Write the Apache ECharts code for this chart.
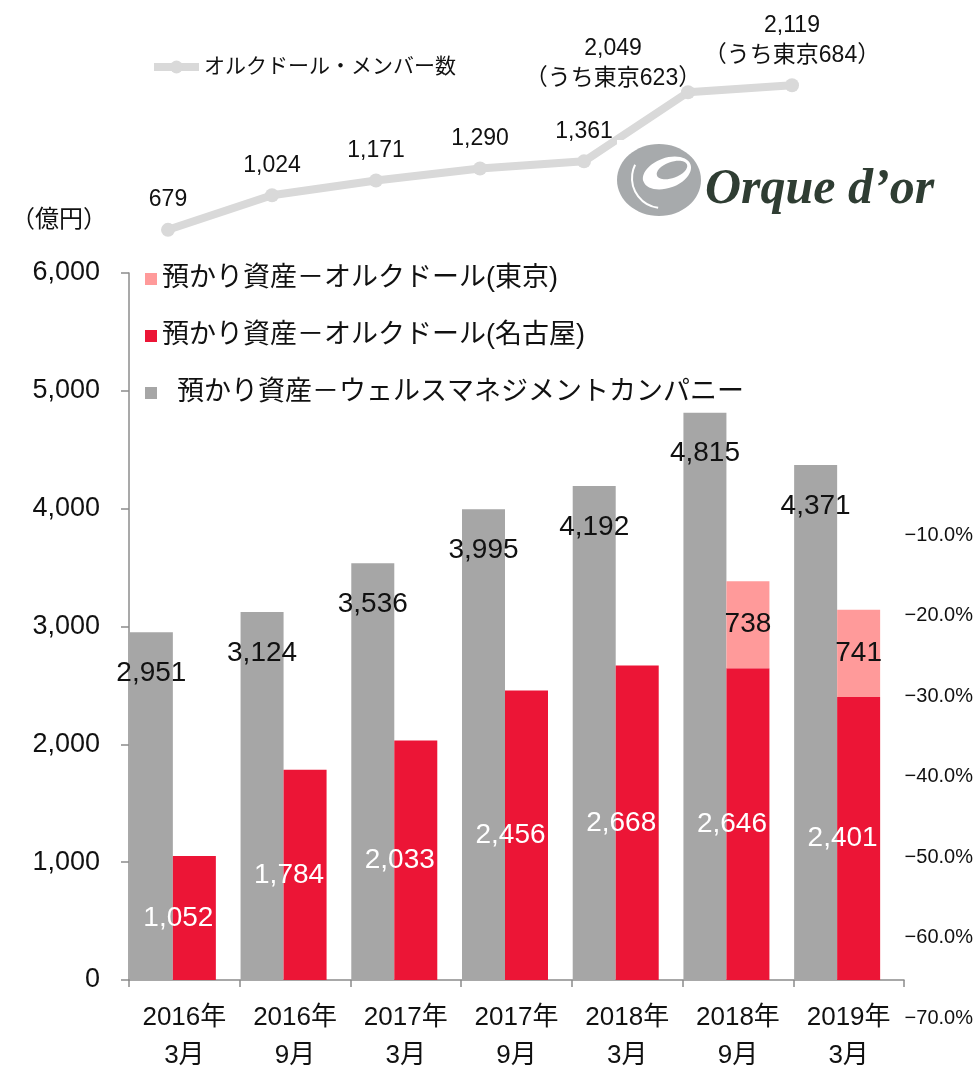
<!DOCTYPE html>
<html>
<head>
<meta charset="utf-8">
<script src="https://cdn.jsdelivr.net/npm/echarts@6/dist/echarts.min.js"></script>
<style>
  html, body { margin: 0; padding: 0; background: #fff; }
  #chart { width: 976px; height: 1075px; }
</style>
</head>
<body>
<div id="chart"></div>
<script>
// data
const categories = ['2016年\n3月', '2016年\n9月', '2017年\n3月', '2017年\n9月', '2018年\n3月', '2018年\n9月', '2019年\n3月'];
const wealthAssets = [2951, 3124, 3536, 3995, 4192, 4815, 4371];
const nagoyaAssets = [1052, 1784, 2033, 2456, 2668, 2646, 2401];
const tokyoAssets = ['-', '-', '-', '-', '-', 738, 741];
const memberCounts = [679, 1024, 1171, 1290, 1361, 2049, 2119];
const tokyoMembers = [null, null, null, null, null, 623, 684];

const nameTokyo = '預かり資産－オルクドール(東京)';
const nameNagoya = '預かり資産－オルクドール(名古屋)';
const nameWealth = '預かり資産－ウェルスマネジメントカンパニー';
const nameMembers = 'オルクドール・メンバー数';

const FONT = '"Liberation Sans", "Noto Sans CJK JP", sans-serif';
const axisGrey = '#8c8c8c';
const lineGrey = '#d9d9d9';

function fmt(v) {
  return Number(v).toLocaleString('en-US');
}

const chart = echarts.init(document.getElementById('chart'));

const memberData = memberCounts.map(function (v, i) {
  const item = { value: v };
  if (i === 5) {
    item.label = { offset: [-75, 16] };
  }
  return item;
});

const option = {
  animation: false,
  textStyle: { fontFamily: FONT, color: '#111' },
  grid: [
    { left: 129, right: 72, top: 273, bottom: 89 },   // bars
    { left: 168, right: 184, top: 47, bottom: 777 },  // member line
    { left: 129, right: 72, top: 535, bottom: 57 }    // right % axis
  ],
  legend: [
    {
      data: [nameMembers],
      left: 145, top: 49,
      itemWidth: 45, itemHeight: 16,
      lineStyle: { width: 8, color: lineGrey },
      itemStyle: { color: lineGrey },
      textStyle: { fontSize: 21, lineHeight: 26, color: '#111' }
    },
    {
      data: [nameTokyo, nameNagoya, nameWealth],
      orient: 'vertical',
      left: 140, top: 259,
      itemWidth: 12, itemHeight: 12,
      itemGap: 27,
      icon: 'rect',
      formatter: function (name) {
        return name === nameWealth ? '  ' + name : name;
      },
      textStyle: { fontSize: 27, lineHeight: 30, color: '#111' }
    }
  ],
  xAxis: [
    {
      type: 'category', gridIndex: 0, data: categories,
      axisLine: { lineStyle: { color: axisGrey, width: 1.5 } },
      axisTick: { show: true, length: 7, lineStyle: { color: axisGrey, width: 1.5 } },
      axisLabel: { fontSize: 26, lineHeight: 38, margin: 19, color: '#111' }
    },
    {
      type: 'category', gridIndex: 1, data: categories, boundaryGap: false, show: false
    },
    {
      type: 'category', gridIndex: 2, data: categories, show: false
    }
  ],
  yAxis: [
    {
      type: 'value', gridIndex: 0, min: 0, max: 6000, interval: 1000,
      axisLine: { show: true, lineStyle: { color: axisGrey, width: 1.5 } },
      axisTick: { show: true, length: 8, lineStyle: { color: axisGrey, width: 1.5 } },
      splitLine: { show: false },
      axisLabel: { fontSize: 27, margin: 29, color: '#111', formatter: fmt }
    },
    {
      type: 'value', gridIndex: 1, min: 0, max: 2500, show: false
    },
    {
      type: 'value', gridIndex: 2, position: 'right', min: -70, max: -10, interval: 10,
      axisLine: { show: false }, axisTick: { show: false }, splitLine: { show: false },
      axisLabel: {
        fontSize: 20, margin: 1, color: '#111', align: 'left',
        formatter: function (v) { return '\u2212' + Math.abs(v).toFixed(1) + '%'; }
      }
    }
  ],
  series: [
    {
      name: nameWealth, type: 'bar', xAxisIndex: 0, yAxisIndex: 0,
      data: wealthAssets, barWidth: 43, barGap: '0%',
      itemStyle: { color: '#a6a6a6' },
      label: {
        show: true, position: 'insideTop', distance: 27,
        fontSize: 28, color: '#111', formatter: function (p) { return fmt(p.value); }
      }
    },
    {
      name: nameNagoya, type: 'bar', stack: 'orque', xAxisIndex: 0, yAxisIndex: 0,
      data: nagoyaAssets, barWidth: 43, barGap: '0%',
      itemStyle: { color: '#ec1536' },
      label: {
        show: true, position: 'inside', offset: [-16, 0],
        fontSize: 28, color: '#fff', formatter: function (p) { return fmt(p.value); }
      }
    },
    {
      name: nameTokyo, type: 'bar', stack: 'orque', xAxisIndex: 0, yAxisIndex: 0,
      data: tokyoAssets, barWidth: 43, barGap: '0%',
      itemStyle: { color: '#ff9a9a' },
      label: {
        show: true, position: 'inside',
        fontSize: 28, color: '#111', formatter: function (p) { return fmt(p.value); }
      }
    },
    {
      // empty slot so the bar pair sits at the left of each category
      name: 'spacer', type: 'bar', xAxisIndex: 0, yAxisIndex: 0,
      data: categories.map(function () { return '-'; }), barWidth: 23, barGap: '0%'
    },
    {
      name: nameMembers, type: 'line', xAxisIndex: 1, yAxisIndex: 1,
      data: memberData,
      symbol: 'circle', symbolSize: 14,
      lineStyle: { color: lineGrey, width: 8 },
      itemStyle: { color: lineGrey },
      z: 3,
      label: {
        show: true, position: 'top', distance: 8,
        fontSize: 23, lineHeight: 30, color: '#111', align: 'center',
        formatter: function (p) {
          let s = fmt(p.value);
          if (tokyoMembers[p.dataIndex] != null) {
            s += '\n（うち東京' + tokyoMembers[p.dataIndex] + '）';
          }
          return s;
        }
      }
    }
  ],
  graphic: [
    {
      type: 'text', left: 11, top: 206, z: 10,
      style: { text: '（億円）', font: '24px "Noto Sans CJK JP"', fill: '#111' }
    },
    // logo box with white background, it cuts the line a little
    {
      type: 'rect', z: 20,
      shape: { x: 617, y: 140, width: 330, height: 84 },
      style: { fill: '#fff' }
    },
    {
      type: 'ellipse', z: 21,
      shape: { cx: 659, cy: 180, rx: 42, ry: 36 },
      style: { fill: '#a7aaac' }
    },
    {
      type: 'ellipse', z: 22,
      shape: { cx: 667, cy: 173, rx: 25, ry: 15 },
      rotation: 0.35, originX: 667, originY: 173,
      style: { fill: '#fff' }
    },
    {
      type: 'ellipse', z: 23,
      shape: { cx: 672, cy: 170, rx: 16, ry: 8 },
      rotation: 0.35, originX: 672, originY: 170,
      style: { fill: '#a7aaac' }
    },
    {
      type: 'arc', z: 24,
      shape: { cx: 662, cy: 178, r: 30, startAngle: 1.7, endAngle: 3.6 },
      style: { stroke: '#fff', lineWidth: 2, fill: null }
    },
    {
      type: 'text', z: 25,
      style: {
        text: 'Orque d\u2019or', x: 705, y: 190,
        font: 'italic bold 50px "Liberation Serif"', fill: '#2f3d33',
        verticalAlign: 'middle'
      }
    }
  ]
};

chart.setOption(option);
</script>
</body>
</html>
